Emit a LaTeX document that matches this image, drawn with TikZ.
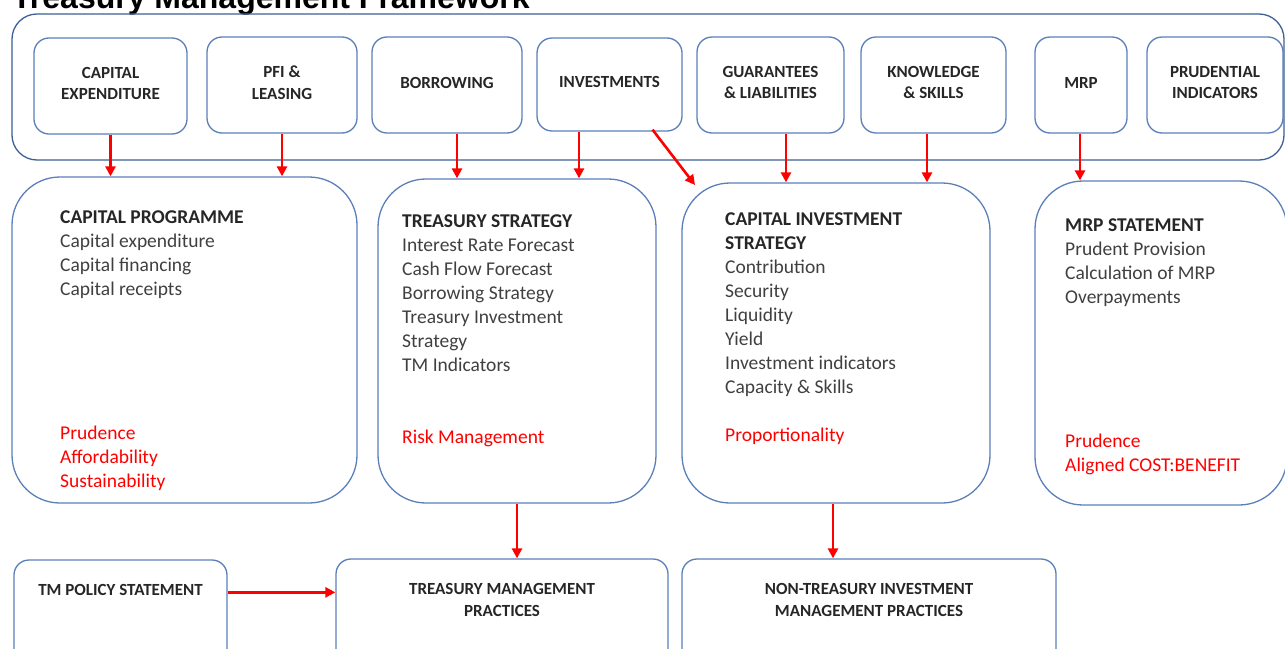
\documentclass[tikz,border=0pt]{standalone}
\usepackage{fontspec}
\setmainfont{Carlito}
\newfontfamily\titlefont{Liberation Sans}
\usetikzlibrary{arrows.meta,positioning,calc}
\definecolor{frameblue}{HTML}{3E5F95}
\definecolor{boxblue}{HTML}{5B7FB9}
\definecolor{inkgrey}{HTML}{404040}
\definecolor{inkdark}{HTML}{262626}
\definecolor{tmred}{HTML}{FF0000}
\tikzset{
   area box/.style={draw=boxblue,line width=1.3pt,rounded corners=15pt,inner sep=0pt},
   topic node/.style={area box,align=center,text depth=5pt,text=inkdark,font=\fontsize{17}{21.5}\selectfont\bfseries},
   statement box/.style={area box,rounded corners=48pt},
   body text/.style={anchor=north west,align=left,inner sep=0pt,text=inkgrey,font=\fontsize{19.5}{24}\selectfont},
   red text/.style={body text,text=tmred},
   practice label/.style={align=center,inner sep=0pt,text=inkdark,font=\fontsize{17}{22}\selectfont\bfseries},
   feed/.style={draw=tmred,line width=2.6pt,-{Triangle[length=10pt,width=10pt]}}
}

\begin{document}
\begin{tikzpicture}[x=1pt,y=-1pt]
\useasboundingbox (0,0) rectangle (1285,648);
% title, cut off at the top
\node[anchor=base west,inner sep=0pt,font=\titlefont\bfseries\fontsize{32}{36}\selectfont] (title) at (12,8) {Treasury Management Framework};
% framework band
\node[draw=frameblue,line width=1.3pt,rounded corners=25pt,minimum width=1272pt,minimum height=146pt] (band) at (648,87) {};
\node[topic node,minimum width=153pt,minimum height=96pt] (capex)  at (110.5,86) {CAPITAL\\EXPENDITURE};
\node[topic node,minimum width=150pt,minimum height=96pt] (pfi)    at (282,85)   {PFI \&\\LEASING};
\node[topic node,minimum width=150pt,minimum height=96pt] (borrow) at (447,85)   {BORROWING};
\node[topic node,minimum width=145pt,minimum height=93pt] (invest) at (609.5,84.5) {INVESTMENTS};
\node[topic node,minimum width=147pt,minimum height=96pt] (guar)   at (770.5,85) {GUARANTEES\\\& LIABILITIES};
\node[topic node,minimum width=145pt,minimum height=96pt] (know)   at (933.5,85) {KNOWLEDGE\\\& SKILLS};
\node[topic node,minimum width=92pt,minimum height=96pt]  (mrp)    at (1081,85)  {MRP};
\node[topic node,minimum width=136pt,minimum height=96pt] (prud)   at (1215,85)  {PRUDENTIAL\\INDICATORS};
% statements
\node[statement box,minimum width=345pt,minimum height=326pt] (capprog) at (184.5,340) {};
\node[statement box,minimum width=278pt,minimum height=324pt] (treas)   at (517,341)   {};
\node[statement box,minimum width=308pt,minimum height=320pt] (cis)     at (836,343)   {};
\node[statement box,minimum width=252pt,minimum height=324pt] (mrpst)   at (1161,343)  {};
\node[body text] (cptext) at (60,210.5) {\textbf{\color{inkdark}CAPITAL PROGRAMME}\\Capital expenditure\\Capital financing\\Capital receipts};
\node[red text]  (cpred)  at (60,426)   {Prudence\\Affordability\\Sustainability};
\node[body text] (tstext) at (402,214.5) {\textbf{\color{inkdark}TREASURY STRATEGY}\\Interest Rate Forecast\\Cash Flow Forecast\\Borrowing Strategy\\Treasury Investment\\Strategy\\TM Indicators};
\node[red text]  (tsred)  at (402,430)  {Risk Management};
\node[body text] (cistext) at (725,212.5) {\textbf{\color{inkdark}CAPITAL INVESTMENT}\\\textbf{\color{inkdark}STRATEGY}\\Contribution\\Security\\Liquidity\\Yield\\Investment indicators\\Capacity \& Skills};
\node[red text]  (cisred) at (725,428)  {Proportionality};
\node[body text] (mrptext) at (1065,218.5) {\textbf{\color{inkdark}MRP STATEMENT}\\Prudent Provision\\Calculation of MRP\\Overpayments};
\node[red text]  (mrpred) at (1065,434) {Prudence\\Aligned COST:BENEFIT};
% practices, cut off at the bottom
\node[area box,minimum width=213pt,minimum height=140pt] (tmpol) at (120.5,630) {};
\node[area box,minimum width=332pt,minimum height=140pt] (tmp)   at (502,629)   {};
\node[area box,minimum width=374pt,minimum height=140pt] (ntimp) at (869,629)   {};
\node[practice label,below=24.5pt of tmpol.north] (tmpoltext) {TM POLICY STATEMENT};
\node[practice label,below=24.5pt of tmp.north]   (tmptext)   {TREASURY MANAGEMENT\\PRACTICES};
\node[practice label,below=24.5pt of ntimp.north] (ntimptext) {NON-TREASURY INVESTMENT\\MANAGEMENT PRACTICES};
\coordinate (cistip) at (695,185);
%
\draw[feed] (capex.south) -- (capex.south |- capprog.north);
\draw[feed] (pfi.south) -- (pfi.south |- capprog.north);
\draw[feed] ([xshift=10pt]borrow.south) -- ([xshift=10pt]borrow.south |- treas.north);
\draw[feed] ([xshift=-30.5pt]invest.south) -- ([xshift=-30.5pt]invest.south |- treas.north);
\draw[feed] ([xshift=43pt,yshift=2pt]invest.south) -- (cistip);
\draw[feed] ([xshift=15.5pt]guar.south) -- ([xshift=15.5pt]guar.south |- cis.north);
\draw[feed] ([xshift=-6.5pt]know.south) -- ([xshift=-6.5pt]know.south |- cis.north);
\draw[feed] ([xshift=-1pt]mrp.south) -- ([xshift=-1pt]mrp.south |- mrpst.north);
\draw[feed] (treas.south) -- (treas.south |- tmp.north);
\draw[feed] ([xshift=-3pt]cis.south) -- ([xshift=-3pt]cis.south |- ntimp.north);
\draw[feed] ([yshift=-33pt]tmpol.north east) -- ([yshift=-33pt]tmpol.north east -| tmp.west);
\end{tikzpicture}
\end{document}
